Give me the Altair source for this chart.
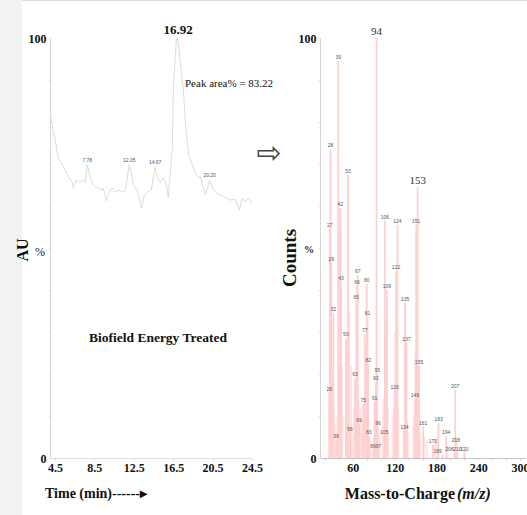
import altair as alt
import pandas as pd

# ---------------- data ----------------
# chromatogram (retention time, min ; relative abundance %)
rt_time = [4.03, 4.23, 4.54, 4.84, 5.25, 5.55, 5.86, 6.26, 6.37, 6.67, 6.97, 7.28, 7.58, 7.78,
           8.09, 8.40, 8.80, 9.31, 9.41, 9.72, 9.92, 10.32, 10.63, 10.93, 11.34, 11.64, 12.05,
           12.25, 12.46, 12.86, 13.27, 13.57, 13.88, 14.28, 14.67, 14.89, 15.20, 15.50, 15.81,
           16.01, 16.42, 16.52, 16.82, 16.92, 17.02, 17.23, 17.53, 17.74, 18.04, 18.55, 19.06,
           19.26, 19.46, 19.77, 20.20, 20.48, 20.78, 21.29, 21.80, 22.30, 22.81, 23.22, 23.52,
           23.82, 24.13, 24.54]
rt_value = [82.0, 79.0, 75.7, 71.4, 69.8, 68.6, 66.9, 65.7, 64.3, 66.2, 65.5, 66.2, 65.7, 69.8,
            66.9, 65.0, 64.3, 63.8, 64.3, 61.2, 63.0, 64.3, 63.3, 63.8, 63.3, 63.8, 69.8,
            67.9, 65.0, 63.8, 59.5, 62.6, 63.3, 63.8, 69.3, 66.7, 65.5, 66.7, 65.0,
            62.1, 74.0, 88.0, 99.5, 100.0, 99.0, 94.0, 88.0, 80.0, 72.6, 69.0, 66.7,
            67.0, 65.0, 62.6, 66.2, 64.3, 63.3, 62.6, 62.1, 61.4, 61.6, 59.0, 61.9,
            61.0, 61.9, 60.7]
peak_times = [7.78, 12.05, 14.67, 20.20]
peak_vals = [69.8, 69.8, 69.3, 66.2]
peak_labels = ["7.78", "12.05", "14.67", "20.20"]
time_ticks = [4.5, 8.5, 12.5, 16.5, 20.5, 24.5]

# mass spectrum, labelled peaks (m/z ; relative intensity %)
ms_mz = [94, 39, 28, 53, 153, 42, 27, 106, 124, 151, 29, 67, 122, 43, 66, 80, 109, 65, 135,
         32, 81, 77, 50, 137, 82, 155, 95, 63, 93, 26, 207, 120, 149, 91, 75, 69, 96, 161,
         183, 56, 83, 105, 134, 194, 36, 175, 208, 89, 97, 189, 206, 210, 220]
ms_int = [100, 94.5, 73.5, 67.5, 64.5, 59.5, 54.5, 56.5, 55.5, 55.5, 46.5, 43.5, 44.5, 42,
          41, 41.5, 40, 37.5, 37, 34.5, 33.5, 29.5, 28.5, 27.5, 22.5, 22, 20, 19, 18, 15.5,
          16.2, 16, 14, 13.3, 12.8, 8, 7.5, 7.5, 8.3, 6, 5.2, 5.2, 6.4, 5.2, 4.3, 3.2, 3.4,
          1.8, 2.0, 0.8, 1.1, 1.1, 1.1]
big_labels = [94, 153]
left_nudged = [189, 206]
# unlabelled peaks filling the spectrum
ms_mz_other = [30, 31, 33, 34, 37, 38, 40, 41, 44, 45, 51, 52, 54, 55, 57, 58, 59, 62, 64, 68,
               70, 71, 73, 74, 76, 78, 79, 84, 85, 90, 92, 98, 103, 104, 107, 108, 110, 111,
               117, 118, 119, 121, 123, 125, 133, 136, 138, 139, 147, 148, 150, 152, 154, 156,
               162, 166, 176, 179, 182, 196, 209, 221]
ms_int_other = [10, 20, 12, 8, 6, 10, 30, 55, 22, 10, 26, 14, 30, 35, 22, 8, 5, 12, 15, 14,
                6, 12, 6, 9, 12, 22, 27, 5, 4, 5, 10, 5, 8, 14, 33, 25, 12, 5,
                6, 10, 12, 30, 33, 12, 8, 18, 9, 6, 8, 10, 25, 40, 12, 6,
                5, 4, 3, 4, 5, 3, 4, 2]
mz_ticks = [20, 40, 60, 80, 100, 120, 140, 160, 180, 200, 220, 240, 260, 280, 300]

# ---------------- styling helpers ----------------
SERIF = "Liberation Serif"
LX = [50, 252]
RX = [320, 525]
YR = [458, 38]

yaxis_common = dict(
    values=list(range(0, 101, 10)), orient="left", title=None, grid=False,
    labelExpr="datum.value == 0 || datum.value == 100 ? datum.label : ''",
    labelFont=SERIF, labelFontWeight="bold", labelFontSize=12, labelColor="#111",
    domainColor="#d8d8d8", tickColor="#e2e2e2", tickSize=2, labelPadding=2,
    labelBaseline="middle",
)

xl = alt.X("t:Q", scale=alt.Scale(domain=[4.0, 24.5], range=LX, nice=False, zero=False),
           axis=alt.Axis(values=time_ticks, orient="bottom", offset=-57, title=None, grid=False,
                         format=".1f", labelFlush=False, labelOverlap=False,
                         labelFont=SERIF, labelFontWeight="bold", labelFontSize=12,
                         labelColor="#111", domainColor="#c4c4c4", domainDash=[1, 1],
                         tickColor="#d4d4d4", tickSize=2, labelPadding=2))
yl = alt.Y("v:Q", scale=alt.Scale(domain=[0, 100], range=YR, nice=False),
           axis=alt.Axis(offset=-50, **yaxis_common))

xr = alt.X("mz:Q", scale=alt.Scale(domain=[20, 300], range=RX, nice=False, zero=False),
           axis=alt.Axis(values=mz_ticks, orient="bottom", offset=-57, title=None, grid=False,
                         labelExpr="datum.value % 60 == 0 ? datum.label : ''",
                         labelFlush=False, labelOverlap=False,
                         labelFont=SERIF, labelFontWeight="bold", labelFontSize=12,
                         labelColor="#111", domainColor="#c4c4c4",
                         tickColor="#cfcfcf", tickSize=2, labelPadding=2))
yr = alt.Y("i:Q", scale=alt.Scale(domain=[0, 100], range=YR, nice=False),
           axis=alt.Axis(offset=-320, **yaxis_common))


def note(text, x, y, size, weight="normal", style="normal", font=SERIF, align="center",
         angle=0, color="#111"):
    return alt.Chart(pd.DataFrame({"s": [text]})).mark_text(
        font=font, fontSize=size, fontWeight=weight, fontStyle=style, align=align,
        baseline="middle", angle=angle, color=color
    ).encode(text="s:N", x=alt.value(x), y=alt.value(y))


# ---------------- left panel ----------------
strip = alt.Chart(pd.DataFrame({"a": [0]})).mark_rect(color="#f1f2f4").encode(
    x=alt.value(0), x2=alt.value(22), y=alt.value(0), y2=alt.value(515))

chrom = alt.Chart(pd.DataFrame({"t": rt_time, "v": rt_value})).mark_line(
    color="#cfe3cf", strokeWidth=1).encode(x=xl, y=yl)

chrom_lbl = alt.Chart(pd.DataFrame({"t": peak_times, "v": peak_vals, "s": peak_labels})).mark_text(
    font="Liberation Sans", fontSize=5, color="#555", baseline="bottom", dy=-2
).encode(x=xl, y=yl, text="s:N")

left = alt.layer(
    strip, chrom, chrom_lbl,
    note("16.92", 178, 30, 13, weight="bold"),
    note("Peak area% = 83.22", 185, 84, 11, align="left"),
    note("Biofield Energy Treated", 158, 338, 13.5, weight="bold"),
    note("AU", 23, 250, 16, weight="bold", angle=270),
    note("%", 40, 252, 12, color="#223"),
    note("\u21e8", 269, 154, 30, font="DejaVu Sans", color="#444"),
    note("Time (min)------\u25b8", 45, 494, 14, weight="bold", align="left"),
)

# ---------------- right panel ----------------
ms_df = pd.DataFrame({"mz": ms_mz, "i": ms_int, "s": [str(m) for m in ms_mz],
                      "big": [m in big_labels for m in ms_mz],
                      "nudge": [m in left_nudged for m in ms_mz]})
ms_other = pd.DataFrame({"mz": ms_mz_other, "i": ms_int_other})

bars_other = alt.Chart(ms_other).mark_bar(size=2, color="#ffdfdf").encode(x=xr, y=yr)
bars = alt.Chart(ms_df).mark_bar(size=1.8, color="#ffd0d0").encode(x=xr, y=yr)
small_lbl = alt.Chart(ms_df).transform_filter("!datum.big && !datum.nudge").mark_text(
    font="Liberation Sans", fontSize=5, color="#555", baseline="bottom", dy=-1).encode(
    x=xr, y=yr, text="s:N")
nudged_lbl = alt.Chart(ms_df).transform_filter("datum.nudge").mark_text(
    font="Liberation Sans", fontSize=5, color="#555", baseline="bottom", dy=-1, dx=-5).encode(
    x=xr, y=yr, text="s:N")
big_lbl = alt.Chart(ms_df).transform_filter("datum.big").mark_text(
    font=SERIF, fontSize=11, color="#333", baseline="bottom", dy=-1).encode(
    x=xr, y=yr, text="s:N")

right = alt.layer(
    bars_other, bars, small_lbl, nudged_lbl, big_lbl,
    note("Counts", 290, 258, 19, weight="bold", angle=270),
    note("%", 309, 250, 10, weight="bold", color="#223"),
    note("Mass-to-Charge", 455, 494, 16, weight="bold", align="right"),
    note("(m/z)", 457, 494, 16, weight="bold", style="italic", align="left"),
)

chart = alt.layer(left, right).resolve_scale(
    x="independent", y="independent"
).resolve_axis(
    x="independent", y="independent"
).properties(
    width=527, height=515, padding=0, autosize=alt.AutoSizeParams(type="none")
).configure_view(strokeWidth=0).configure(background="white")

chart.save("out.html", embed_options={"renderer": "svg", "actions": False})
